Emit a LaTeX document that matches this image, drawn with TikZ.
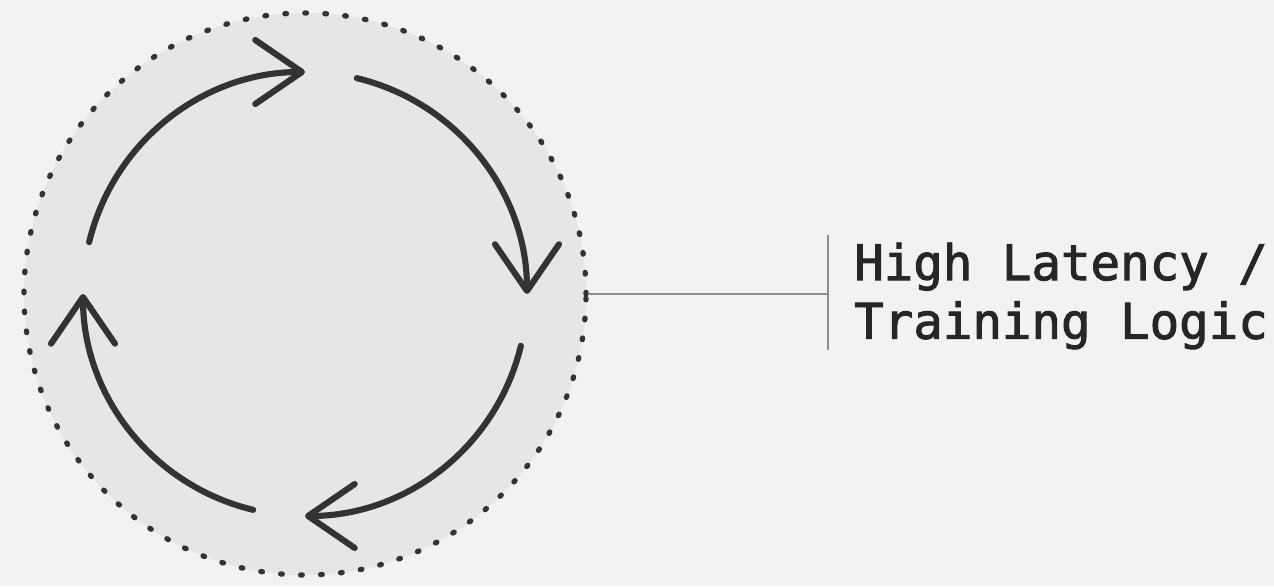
\documentclass[tikz,border=0pt]{standalone}
\usepackage{fontspec}
\newfontfamily\labelfont[FakeBold=2]{DejaVu Sans Mono}
\usetikzlibrary{arrows.meta}
\definecolor{bgcol}{HTML}{F2F2F2}
\definecolor{discfill}{HTML}{E6E6E6}
\definecolor{inkcol}{HTML}{333333}
\definecolor{rulecol}{HTML}{8C8C8C}
\begin{document}
\begin{tikzpicture}[x=0.75pt,y=0.75pt,
  disc/.style={circle, inner sep=0pt, minimum size=421.5pt, fill=discfill,
    draw=inkcol, line width=4pt, line cap=round,
    dash pattern=on 1.2pt off 13.8pt},
  cyclearc/.style={draw=inkcol, line width=4.6pt, line cap=round, line join=round,
    -{Straight Barb[length=35pt,width=48pt,line cap=round,line join=round]}},
  guide/.style={draw=rulecol, line width=1.4pt},
  caption/.style={inner sep=0pt, align=left, anchor=west,
    font=\labelfont\fontsize{36.8pt}{44pt}\selectfont, text=black!85}]
  % canvas
  \fill[bgcol] (0,0) rectangle (1274,586);
  \useasboundingbox (0,0) rectangle (1274,586);
  % dotted disc
  \node[disc] (loop) at (305,292) {};
  % four clockwise arcs
  \foreach \a in {90,0,-90,-180}{
    \draw[cyclearc] (loop.center) ++(\a+76.5:222) arc[start angle=\a+76.5, end angle=\a, radius=222];
  }
  % leader line and bracket
  \coordinate (bartop) at (828,351);
  \coordinate (barbot) at (828,236);
  \draw[guide] (loop.east) -- (loop.east -| bartop);
  \draw[guide] (bartop) -- (barbot);
  % caption
  \node[caption] (note) at (854,290) {High Latency /\\Training Logic};
\end{tikzpicture}
\end{document}
